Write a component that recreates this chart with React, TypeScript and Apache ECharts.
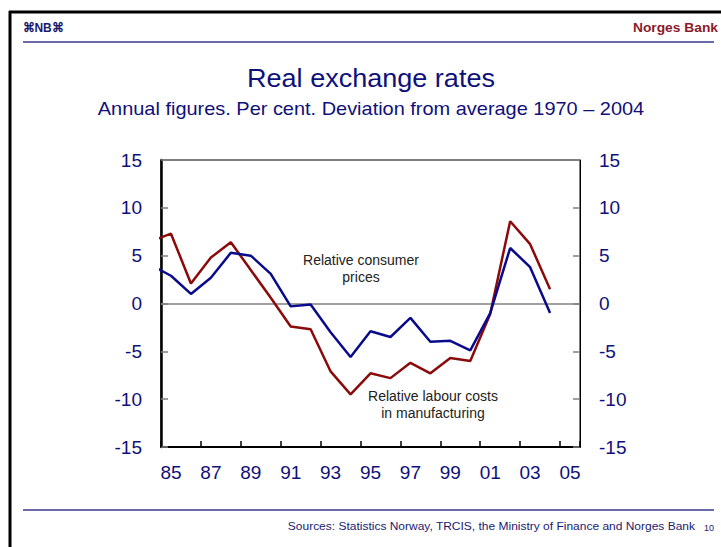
import React, { useEffect, useRef } from "react";
import * as echarts from "echarts";

const years = [1984, 1985, 1986, 1987, 1988, 1989, 1990, 1991, 1992, 1993, 1994, 1995, 1996, 1997, 1998, 1999, 2000, 2001, 2002, 2003, 2004];
const labourCosts = [6.5, 7.3, 2.1, 4.8, 6.4, 3.5, 0.6, -2.4, -2.7, -7.1, -9.5, -7.3, -7.8, -6.2, -7.3, -5.7, -6.0, -1.1, 8.6, 6.2, 1.5];
const consumerPrices = [4.0, 2.9, 1.0, 2.7, 5.3, 5.0, 3.1, -0.3, -0.1, -3.0, -5.6, -2.9, -3.5, -1.5, -4.0, -3.9, -4.9, -1.0, 5.8, 3.8, -1.0];
const xCategories = ["85", "86", "87", "88", "89", "90", "91", "92", "93", "94", "95", "96", "97", "98", "99", "00", "01", "02", "03", "04", "05"];

const FONT = "'Liberation Sans', Arial, sans-serif";
const NAVY = "#10107a";

export default function App() {
  const ref = useRef<HTMLDivElement>(null);
  useEffect(() => {
    if (!ref.current) return;
    const chart = echarts.init(ref.current, null, { renderer: "svg" });
    const yAxisBase = {
      type: "value" as const,
      min: -15,
      max: 15,
      interval: 5,
      splitLine: { show: false },
      axisTick: { show: true, inside: true, length: 7, lineStyle: { color: "#808080", width: 1.5 } },
      axisLabel: { color: NAVY, fontSize: 19, fontFamily: FONT, margin: 19 },
    };
    chart.setOption({
      animation: false,
      backgroundColor: "#ffffff",
      grid: { left: 161, right: 141, top: 160, bottom: 100, show: true, borderColor: "#000", borderWidth: 1, containLabel: false },
      xAxis: [
        {
          type: "category",
          data: xCategories,
          boundaryGap: true,
          position: "bottom",
          axisLine: { onZero: false, lineStyle: { color: "#000", width: 2 } },
          axisTick: { show: true, inside: true, interval: 1, length: 6, lineStyle: { color: "#000", width: 1.5 } },
          axisLabel: { interval: 1, color: NAVY, fontSize: 19, fontFamily: FONT, margin: 16 },
          splitLine: { show: false },
        },
        {
          type: "value",
          min: 1984.5,
          max: 2005.5,
          show: false,
          position: "top",
          splitLine: { show: false },
        },
      ],
      yAxis: [
        { ...yAxisBase, position: "left", axisLine: { show: true, lineStyle: { color: "#000", width: 2.5 } } },
        { ...yAxisBase, position: "right", axisLine: { show: true, lineStyle: { color: "#000", width: 1 } } },
      ],
      series: [
        {
          name: "Relative labour costs in manufacturing",
          type: "line",
          xAxisIndex: 1,
          yAxisIndex: 0,
          data: years.map((y, i) => [y, labourCosts[i]]),
          symbol: "none",
          clip: true,
          lineStyle: { color: "#8b0a0a", width: 2.5 },
          z: 3,
        },
        {
          name: "Relative consumer prices",
          type: "line",
          xAxisIndex: 1,
          yAxisIndex: 0,
          data: years.map((y, i) => [y, consumerPrices[i]]),
          symbol: "none",
          clip: true,
          lineStyle: { color: "#0a0a8c", width: 2.5 },
          z: 4,
          markLine: {
            silent: true,
            symbol: "none",
            label: { show: false },
            lineStyle: { color: "#808080", width: 1.5, type: "solid" },
            data: [{ yAxis: 0 }],
            z: 1,
          },
        },
      ],
      graphic: [
        { type: "line", shape: { x1: 9, y1: 12, x2: 721, y2: 12 }, style: { stroke: "#000", lineWidth: 3 } },
        { type: "line", shape: { x1: 10, y1: 11, x2: 10, y2: 547 }, style: { stroke: "#000", lineWidth: 3 } },
        { type: "line", shape: { x1: 23, y1: 42, x2: 714, y2: 42 }, style: { stroke: "#6a6aa8", lineWidth: 2 } },
        { type: "line", shape: { x1: 23, y1: 510, x2: 714, y2: 510 }, style: { stroke: "#6a6aa8", lineWidth: 2 } },
        { type: "text", x: 23, y: 28, scaleX: 0.92, style: { text: "⌘NB⌘", fill: "#1a1a6e", font: `bold 13px ${FONT}`, textVerticalAlign: "middle" } },
        { type: "text", x: 718, y: 28, scaleX: 1.15, style: { text: "Norges Bank", fill: "#8b1a2b", font: `bold 12px ${FONT}`, textAlign: "right", textVerticalAlign: "middle" } },
        { type: "text", x: 371, y: 78, scaleX: 1.04, style: { text: "Real exchange rates", fill: NAVY, font: `26px ${FONT}`, textAlign: "center", textVerticalAlign: "middle" } },
        { type: "text", x: 371, y: 108, scaleX: 1.05, style: { text: "Annual figures. Per cent. Deviation from average 1970 – 2004", fill: NAVY, font: `19px ${FONT}`, textAlign: "center", textVerticalAlign: "middle" } },
        { type: "text", x: 361, y: 268, style: { text: "Relative consumer\nprices", fill: "#222", font: `14px ${FONT}`, textAlign: "center", textVerticalAlign: "middle", lineHeight: 17 } },
        { type: "text", x: 433, y: 404, style: { text: "Relative labour costs\nin manufacturing", fill: "#222", font: `14px ${FONT}`, textAlign: "center", textVerticalAlign: "middle", lineHeight: 17 } },
        { type: "text", x: 695, y: 526, scaleX: 1.09, style: { text: "Sources: Statistics Norway, TRCIS, the Ministry of Finance and Norges Bank", fill: "#1a1a6e", font: `11px ${FONT}`, textAlign: "right", textVerticalAlign: "middle" } },
        { type: "text", x: 709, y: 528, style: { text: "10", fill: "#1a1a6e", font: `9px ${FONT}`, textAlign: "center", textVerticalAlign: "middle" } },
      ],
    });
    return () => chart.dispose();
  }, []);
  return <div ref={ref} style={{ position: "fixed", left: 0, top: 0, width: 721, height: 547 }} />;
}
